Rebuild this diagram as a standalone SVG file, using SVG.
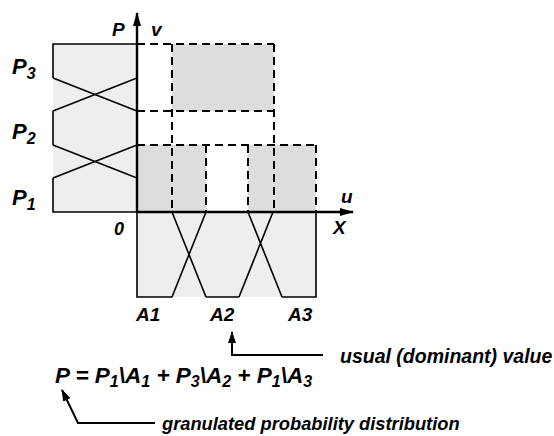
<svg xmlns="http://www.w3.org/2000/svg" width="554" height="436" viewBox="0 0 554 436">
<style>
.t{font-family:"Liberation Sans",Arial,sans-serif;font-weight:bold;font-style:italic;fill:#000}
.ln{stroke:#000;stroke-width:1.6;fill:none}
.ax{stroke:#000;stroke-width:2.4;fill:none}
.ds{stroke:#000;stroke-width:2;fill:none;stroke-dasharray:8 5}
.g1{fill:#eeeeee}
.g2{fill:#dcdedc}
</style>
<defs>
<marker id="ah" viewBox="0 0 14 8" refX="13" refY="4" markerWidth="14" markerHeight="8" markerUnits="userSpaceOnUse" orient="auto">
<path d="M0,0 L14,4 L0,8 z" fill="#000"/>
</marker>
<marker id="ah2" viewBox="0 0 12 8" refX="11" refY="4" markerWidth="12" markerHeight="8" markerUnits="userSpaceOnUse" orient="auto">
<path d="M0,0 L12,4 L0,8 z" fill="#000"/>
</marker>
</defs>
<rect width="554" height="436" fill="#fff"/>
<g id="p-distribution">
<rect class="g1" x="53" y="44" width="84" height="168"/>
<path class="ln" d="M137,44 H53 V78 M53,111 V145 M53,178 V212 H137 M53,78 L137,111 M137,78 L53,111 M53,145 L137,178 M137,145 L53,178"/>
</g>
<g id="a-distribution">
<rect class="g1" x="137" y="212" width="179" height="85"/>
<path class="ln" d="M137,212 V297 H172 M206,297 H239 M282,297 H316 V212 M172,212 L206,297 M206,212 L172,297 M248,212 L282,297 M273,212 L239,297"/>
</g>
<g id="granules">
<rect class="g2" x="172" y="44" width="102" height="67"/>
<rect class="g2" x="137" y="145" width="69" height="67"/>
<rect class="g2" x="248" y="145" width="68" height="67"/>
<path class="ds" d="M137,44 H274 M137,111 H274 M137,145 H316 M172,44 V212 M274,44 V212 M206,145 V212 M248,145 V212 M316,145 V212"/>
</g>
<g id="axes">
<path class="ax" d="M137,212 V13" marker-end="url(#ah)"/>
<path class="ax" d="M137,212 H353" marker-end="url(#ah)"/>
</g>
<g id="labels">
<text class="t" x="112" y="36" font-size="19">P</text>
<text class="t" x="151" y="36" font-size="19">v</text>
<text class="t" x="12" y="74" font-size="22">P<tspan font-size="16" dy="5">3</tspan></text>
<text class="t" x="12" y="139" font-size="22">P<tspan font-size="16" dy="5">2</tspan></text>
<text class="t" x="12" y="205" font-size="22">P<tspan font-size="16" dy="5">1</tspan></text>
<text class="t" x="114" y="235" font-size="18">0</text>
<text class="t" x="341" y="203" font-size="19">u</text>
<text class="t" x="333" y="234" font-size="19">X</text>
<text class="t" x="136" y="321" font-size="19">A1</text>
<text class="t" x="210" y="321" font-size="19">A2</text>
<text class="t" x="288" y="321" font-size="19">A3</text>
</g>
<g id="connectors">
<path class="ln" d="M323,355 H232 V332" marker-end="url(#ah2)" style="stroke-width:2"/>
<path class="ln" d="M155,423 H78 L62,390" marker-end="url(#ah2)" style="stroke-width:2"/>
</g>
<g id="annotations">
<text class="t" x="340" y="363" font-size="19.5">usual (dominant) value</text>
<text class="t" x="55" y="383" font-size="22.5">P = P<tspan font-size="16" dy="4">1</tspan><tspan dy="-4">\A</tspan><tspan font-size="16" dy="4">1</tspan><tspan dy="-4"> + P</tspan><tspan font-size="16" dy="4">3</tspan><tspan dy="-4">\A</tspan><tspan font-size="16" dy="4">2</tspan><tspan dy="-4"> + P</tspan><tspan font-size="16" dy="4">1</tspan><tspan dy="-4">\A</tspan><tspan font-size="16" dy="4">3</tspan></text>
<text class="t" x="162" y="430" font-size="18.3">granulated probability distribution</text>
</g>
</svg>
